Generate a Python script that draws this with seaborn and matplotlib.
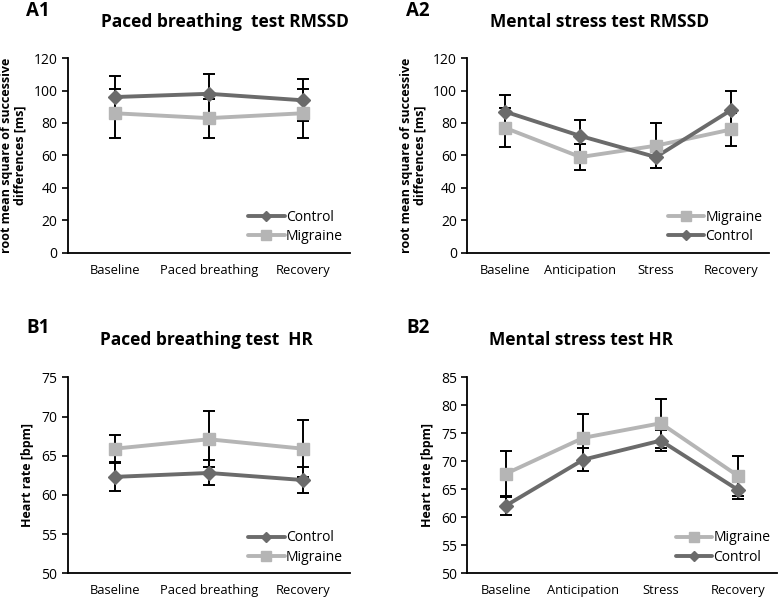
import numpy as np
import pandas as pd
import matplotlib
matplotlib.use('Agg')
import matplotlib.pyplot as plt
import seaborn as sns

# --- data ---
stages_pb = ['Baseline', 'Paced breathing', 'Recovery']
stages_ms = ['Baseline', 'Anticipation', 'Stress', 'Recovery']

rmssd_pb_control = [96, 98, 94]
rmssd_pb_control_sd = [13, 12, 13]
rmssd_pb_migraine = [86, 83, 86]
rmssd_pb_migraine_sd = [15, 12, 15]

rmssd_ms_control = [87, 72, 59, 88]
rmssd_ms_control_sd = [10, 10, 7, 12]
rmssd_ms_migraine = [77, 59, 66, 76]
rmssd_ms_migraine_sd = [12, 8, 14, 10]

hr_pb_control = [62.3, 62.8, 61.9]
hr_pb_control_sd = [1.8, 1.6, 1.7]
hr_pb_migraine = [65.9, 67.1, 65.9]
hr_pb_migraine_sd = [1.7, 3.6, 3.6]

hr_ms_control = [62.1, 70.3, 73.7, 64.9]
hr_ms_control_sd = [1.7, 2.0, 1.9, 1.6]
hr_ms_migraine = [67.8, 74.2, 76.8, 67.4]
hr_ms_migraine_sd = [4.1, 4.3, 4.4, 3.6]

COLORS = {'Control': '#6b6b6b', 'Migraine': '#b5b5b5'}
MARKERS = {'Control': 'D', 'Migraine': 's'}
MSIZE = {'Control': 7, 'Migraine': 8.5}

sns.set_style('ticks')
plt.rcParams['font.family'] = ['Open Sans', 'DejaVu Sans']
plt.rcParams['axes.linewidth'] = 1.3
plt.rcParams['text.color'] = 'black'
plt.rcParams['axes.labelcolor'] = 'black'
plt.rcParams['xtick.color'] = 'black'
plt.rcParams['ytick.color'] = 'black'
plt.rcParams['axes.edgecolor'] = 'black'


def draw(ax, stages, series, order, ylim, yticks, ylabel):
    rows = []
    for grp in order:
        vals, sd = series[grp]
        for st, v in zip(stages, vals):
            rows.append({'stage': st, 'value': v, 'group': grp})
    df = pd.DataFrame(rows)

    # error bars first so the markers sit on top
    for grp in order:
        vals, sd = series[grp]
        ax.errorbar(np.arange(len(stages)), vals, yerr=sd, fmt='none',
                    ecolor='black', elinewidth=1.4, capsize=4, capthick=1.4, zorder=1)

    sns.lineplot(data=df, x='stage', y='value', hue='group', hue_order=order,
                 palette=COLORS, sort=False, lw=2.8, ax=ax, zorder=2, legend=False)
    for grp in order:
        vals, _ = series[grp]
        ax.plot(np.arange(len(stages)), vals, ls='none', marker=MARKERS[grp],
                ms=MSIZE[grp], mec=COLORS[grp], mfc=COLORS[grp], zorder=3)

    handles = [plt.Line2D([], [], color=COLORS[g], lw=2.8, marker=MARKERS[g],
                          ms=MSIZE[g] - 1.5, mec=COLORS[g]) for g in order]
    ax.legend(handles, order, frameon=False, loc='lower right',
              bbox_to_anchor=(1.02, -0.02), handlelength=2.6, handletextpad=0.1,
              labelspacing=0.3, fontsize=10)

    ax.set_xlim(-0.5, len(stages) - 0.5)
    ax.set_ylim(*ylim)
    ax.set_yticks(yticks)
    ax.tick_params(axis='x', length=0, pad=8, labelsize=9.3)
    ax.tick_params(axis='y', length=4, width=1.2, labelsize=10)
    ax.set_xlabel('')
    ax.set_ylabel(ylabel, fontsize=9, fontweight='bold', labelpad=5,
                  linespacing=1.0)
    sns.despine(ax=ax)


fig = plt.figure(figsize=(7.79, 5.99), dpi=100)

ax_a1 = fig.add_axes([0.087, 0.578, 0.362, 0.325])
ax_a2 = fig.add_axes([0.6, 0.578, 0.387, 0.325])
ax_b1 = fig.add_axes([0.087, 0.043, 0.362, 0.327])
ax_b2 = fig.add_axes([0.6, 0.043, 0.397, 0.327])

rmssd_label = 'root mean square of successive\ndifferences [ms]'
hr_label = 'Heart rate [bpm]'

draw(ax_a1, stages_pb,
     {'Control': (rmssd_pb_control, rmssd_pb_control_sd),
      'Migraine': (rmssd_pb_migraine, rmssd_pb_migraine_sd)},
     ['Control', 'Migraine'], (0, 120), range(0, 121, 20), rmssd_label)
draw(ax_a2, stages_ms,
     {'Control': (rmssd_ms_control, rmssd_ms_control_sd),
      'Migraine': (rmssd_ms_migraine, rmssd_ms_migraine_sd)},
     ['Migraine', 'Control'], (0, 120), range(0, 121, 20), rmssd_label)
draw(ax_b1, stages_pb,
     {'Control': (hr_pb_control, hr_pb_control_sd),
      'Migraine': (hr_pb_migraine, hr_pb_migraine_sd)},
     ['Control', 'Migraine'], (50, 75), range(50, 76, 5), hr_label)
draw(ax_b2, stages_ms,
     {'Control': (hr_ms_control, hr_ms_control_sd),
      'Migraine': (hr_ms_migraine, hr_ms_migraine_sd)},
     ['Migraine', 'Control'], (50, 85), range(50, 86, 5), hr_label)

# panel titles and letters
title_kw = dict(fontsize=12.5, fontweight='bold', ha='center', va='center')
fig.text(225 / 779, 1 - 22 / 599, 'Paced breathing  test RMSSD', **title_kw)
fig.text(600 / 779, 1 - 22 / 599, 'Mental stress test RMSSD', **title_kw)
fig.text(206 / 779, 1 - 340 / 599, 'Paced breathing test  HR', **title_kw)
fig.text(581 / 779, 1 - 340 / 599, 'Mental stress test HR', **title_kw)

letter_kw = dict(fontsize=13.5, fontweight='bold', ha='left', va='center')
fig.text(26 / 779, 1 - 11 / 599, 'A1', **letter_kw)
fig.text(406 / 779, 1 - 11 / 599, 'A2', **letter_kw)
fig.text(26 / 779, 1 - 328 / 599, 'B1', **letter_kw)
fig.text(406 / 779, 1 - 328 / 599, 'B2', **letter_kw)

plt.savefig('out.png', dpi=100)
plt.close()
